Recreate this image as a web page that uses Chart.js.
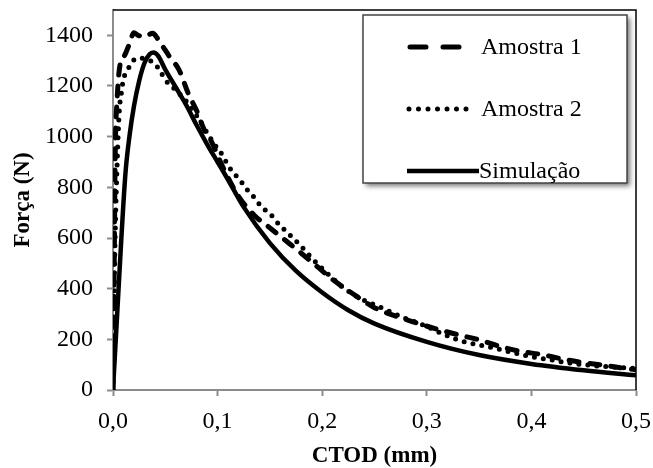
<head>
  <script src="https://cdn.jsdelivr.net/npm/chart.js@4.4.0/dist/chart.umd.min.js"></script>
  <style>
    html, body { margin: 0; padding: 0; background: #fff; }
    #wrap { width: 653px; height: 468px; }
  </style>
</head>
<body>
  <div id="wrap"><canvas id="myChart" width="653" height="468"></canvas></div>
  <script>
    // CTOD (mm) / Força (N)
    let amostra1X=[0,0.001,0.002,0.004,0.007,0.011,0.016,0.020,0.024,0.030,0.038,0.043,0.047,0.055,0.063,0.072,0.080,0.088,0.093,0.105,0.120,0.135,0.150,0.165,0.180,0.195,0.210,0.230,0.250,0.270,0.290,0.310,0.330,0.350,0.370,0.390,0.410,0.430,0.450,0.470,0.490,0.500];
    let amostra1Y=[0,400,900,1150,1290,1320,1370,1410,1400,1395,1408,1385,1360,1310,1265,1170,1102,1020,990,880,765,690,640,590,540,488,436,378,325,292,265,240,218,198,172,152,140,122,108,97,85,80];

    let amostra2X=[0,0.001,0.002,0.004,0.006,0.0083,0.0096,0.0145,0.019,0.026,0.033,0.040,0.045,0.050,0.058,0.072,0.083,0.0927,0.099,0.105,0.110,0.123,0.129,0.136,0.142,0.150,0.156,0.171,0.179,0.188,0.200,0.220,0.234,0.255,0.275,0.297,0.315,0.332,0.350,0.365,0.380,0.400,0.420,0.437,0.455,0.472,0.490,0.500];
    let amostra2Y=[0,350,600,900,1100,1181,1220,1267,1299,1310,1305,1287,1260,1224,1192,1130,1063,997,958,925,886,820,787,756,722,697,666,604,571,530,480,405,367,328,290,256,222,195,178,165,150,131,118,106,98,92,87,85];

    let simX=[0,0.004,0.008,0.012,0.016,0.020,0.025,0.030,0.035,0.0385,0.043,0.050,0.060,0.070,0.080,0.090,0.100,0.110,0.125,0.150,0.175,0.200,0.225,0.250,0.300,0.350,0.400,0.450,0.500];
    let simY=[0,300,600,860,1010,1120,1220,1290,1325,1332,1320,1265,1195,1125,1045,970,900,830,722,580,470,385,315,262,190,138,103,78,58];

    let xTicks=[0,0.1,0.2,0.3,0.4,0.5];
    let yTicks=[0,200,400,600,800,1000,1200,1400];

    let labels=['Amostra 1','Amostra 2','Simulação'];

    function pts(xs,ys){ return xs.map((x,i)=>({x:x,y:ys[i]})); }

    Chart.defaults.font.family='"Liberation Serif", "Times New Roman", serif';
    Chart.defaults.color='#000';

    const gray='#8c8c8c';

    // top and right plot-area frame
    const frame={
      id:'frame',
      beforeDatasetsDraw(chart){
        const a=chart.chartArea, c=chart.ctx;
        c.save();
        c.strokeStyle='#000'; c.lineWidth=1.5;
        c.beginPath();
        c.moveTo(a.left,a.top); c.lineTo(a.right,a.top); c.lineTo(a.right,a.bottom);
        c.stroke();
        c.restore();
      }
    };

    // boxed legend with shadow inside the plot
    const boxLegend={
      id:'boxLegend',
      afterDatasetsDraw(chart){
        const c=chart.ctx;
        const L=363, T=15, W=264, H=168;
        c.save();
        c.shadowColor='rgba(0,0,0,0.55)'; c.shadowBlur=5; c.shadowOffsetX=3; c.shadowOffsetY=3;
        c.fillStyle='#fff'; c.fillRect(L,T,W,H);
        c.restore();
        c.save();
        c.strokeStyle='#444'; c.lineWidth=1.5;
        c.strokeRect(L,T,W,H);
        const rows=[47,109,171];
        chart.data.datasets.forEach((ds,i)=>{
          const y=rows[i];
          c.strokeStyle=ds.borderColor;
          c.lineWidth=ds.borderWidth;
          c.lineCap=ds.borderCapStyle||'butt';
          c.setLineDash(ds.legendDash||[]);
          c.beginPath();
          c.moveTo(ds.legendFrom,y); c.lineTo(ds.legendTo,y);
          c.stroke();
          c.setLineDash([]);
          c.fillStyle='#000';
          c.font='24px "Liberation Serif", serif';
          c.textBaseline='middle';
          c.fillText(ds.label, ds.textX, y+1);
        });
        c.restore();
      }
    };

    var ctx=document.getElementById('myChart').getContext('2d');
    var myChart=new Chart(ctx,{
      type:'scatter',
      data:{
        datasets:[{
          label:labels[0],
          data:pts(amostra1X,amostra1Y),
          showLine:true,
          borderColor:'#000',
          borderWidth:5,
          borderDash:[10,11],
          borderCapStyle:'round',
          legendDash:[16,17],
          legendFrom:410, legendTo:470, textX:481,
          pointRadius:0,
          cubicInterpolationMode:'monotone'
        },{
          label:labels[1],
          data:pts(amostra2X,amostra2Y),
          showLine:true,
          borderColor:'#000',
          borderWidth:5,
          borderDash:[0,9],
          borderCapStyle:'round',
          legendDash:[0,9.5],
          legendFrom:409, legendTo:468, textX:481,
          pointRadius:0,
          cubicInterpolationMode:'monotone'
        },{
          label:labels[2],
          data:pts(simX,simY),
          showLine:true,
          borderColor:'#000',
          borderWidth:4.5,
          borderCapStyle:'butt',
          legendFrom:407, legendTo:479, textX:479,
          pointRadius:0,
          cubicInterpolationMode:'monotone'
        }]
      },
      options:{
        responsive:false,
        animation:false,
        layout:{padding:{left:0,top:10,right:17,bottom:0}},
        plugins:{legend:{display:false},tooltip:{enabled:false}},
        scales:{
          x:{
            type:'linear',
            min:0,max:0.5,
            afterBuildTicks:axis=>{ axis.ticks=xTicks.map(v=>({value:v})); },
            afterFit:scale=>{ scale.height=78; scale.paddingLeft=0; scale.paddingRight=0; },
            border:{color:gray,width:2},
            grid:{display:true,drawOnChartArea:false,drawTicks:true,tickLength:6,tickColor:gray,tickWidth:2},
            ticks:{font:{size:24},padding:11,callback:v=>v.toFixed(1).replace('.',',')},
            title:{display:true,text:'CTOD (mm)',font:{size:23,weight:'bold',lineHeight:1},padding:{top:0,bottom:0}}
          },
          y:{
            min:0,max:1500,
            afterBuildTicks:axis=>{ axis.ticks=yTicks.map(v=>({value:v})); },
            afterFit:scale=>{ scale.width=113; scale.paddingTop=0; scale.paddingBottom=0; },
            border:{color:gray,width:2},
            grid:{display:true,drawOnChartArea:false,drawTicks:true,tickLength:6,tickColor:gray,tickWidth:2},
            ticks:{font:{size:24},padding:14,callback:v=>String(v)},
            title:{display:true,text:'Força (N)',font:{size:23,weight:'bold',lineHeight:1},padding:{top:12,bottom:0}}
          }
        }
      },
      plugins:[frame,boxLegend]
    });
  </script>
</body>
